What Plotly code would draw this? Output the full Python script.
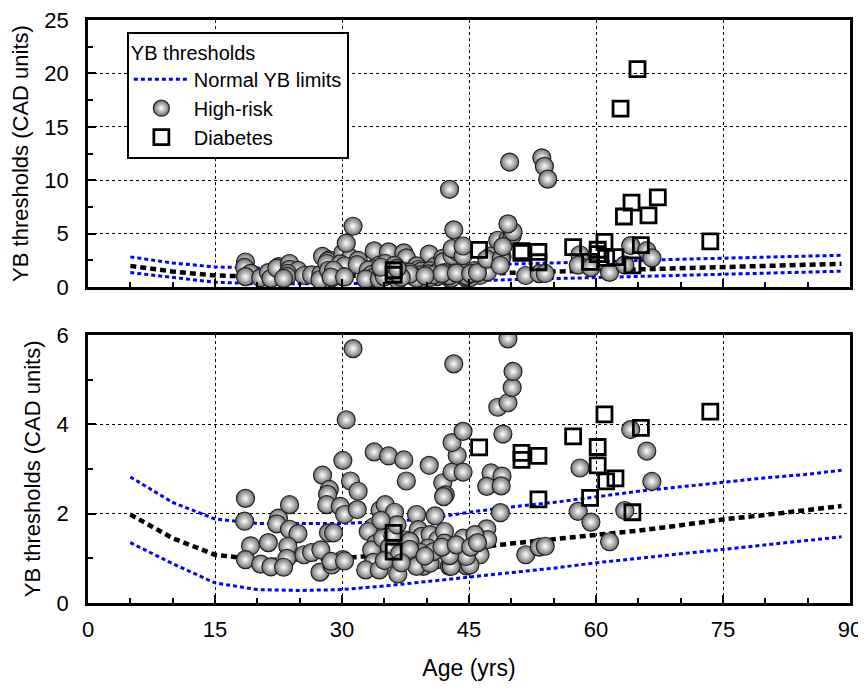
import plotly.graph_objects as go

# Normal YB limit curves
curve_age = [5, 10, 15, 20, 25, 30, 35, 40, 45, 50, 55, 60, 65, 70, 75, 80, 85, 89]
upper_lim = [2.82, 2.25, 1.88, 1.78, 1.78, 1.78, 1.82, 1.88, 2.03, 2.15, 2.25, 2.38, 2.50, 2.60, 2.70, 2.80, 2.88, 2.97]
middle = [1.98, 1.45, 1.08, 0.97, 0.97, 1.00, 1.08, 1.15, 1.22, 1.33, 1.42, 1.52, 1.62, 1.74, 1.87, 1.97, 2.07, 2.17]
lower_lim = [1.35, 0.88, 0.45, 0.30, 0.28, 0.30, 0.38, 0.48, 0.58, 0.68, 0.78, 0.90, 1.00, 1.10, 1.20, 1.30, 1.40, 1.48]

# High-risk subjects (age, threshold)
hr_age = [18.6, 18.5, 19.2, 18.6, 20.4, 21.3, 21.6, 22.5, 22.3, 23.8, 23.8, 24.8, 23.6, 23.5, 23.1,
          25.5, 26.4, 27.5, 27.4, 28.8, 27.7, 28.5, 28.3, 28.2, 28.4, 30.1, 31.0, 31.9, 29.8, 30.3,
          31.8, 30.1, 29.0, 28.7, 30.3, 30.5, 31.3,
          33.8, 35.5, 37.3, 40.3, 37.6, 34.5, 35.1, 36.2, 38.8, 41.0, 33.7, 33.1, 34.0, 33.5, 33.7,
          32.8, 34.4, 36.6, 37.4, 37.6, 39.0, 39.4, 40.4, 41.3, 42.1, 40.2, 39.3, 38.4, 39.6, 41.2,
          42.7, 43.0, 44.2, 44.7, 46.3, 47.1, 47.2, 44.3, 45.7, 41.9, 42.2, 42.0, 43.0, 43.6, 43.0,
          44.3, 44.3, 43.2, 38.0, 42.1, 38.8, 40.4, 45.1, 42.9, 44.7, 42.7,
          34.8, 35.6, 36.8, 35.0, 36.0, 38.0, 40.8, 41.8, 43.5, 39.8, 37.0, 45.2, 46.0, 36.5, 34.6,
          47.6, 48.9, 47.1, 48.8, 48.7, 48.4, 49.6, 50.1, 50.2, 49.6, 49.0, 51.7, 53.3, 54.0, 58.1,
          57.9, 59.4, 61.6, 63.4, 64.1, 66.0, 66.6,
          42.7, 49.8, 53.6, 53.9, 54.3]
hr_val = [2.34, 1.83, 1.28, 0.97, 0.87, 1.35, 0.81, 1.90, 1.77, 2.20, 1.65, 1.55, 1.27, 1.00, 0.80,
          1.08, 1.13, 1.19, 0.69, 0.85, 2.86, 2.54, 2.43, 2.20, 1.57, 3.19, 2.73, 2.50, 2.16, 1.98,
          2.09, 0.97, 1.57, 0.93, 0.94, 4.10, 5.69,
          3.38, 3.29, 3.20, 3.08, 2.73, 2.08, 2.20, 2.03, 1.98, 1.95, 1.70, 1.60, 1.33, 1.19, 0.91,
          0.74, 0.74, 0.65, 1.29, 1.41, 1.64, 1.49, 1.53, 1.41, 1.60, 1.23, 1.13, 1.00, 0.82, 0.97,
          0.82, 1.08, 1.19, 0.83, 1.08, 1.66, 1.42, 1.45, 1.53, 2.69, 2.42, 2.38, 2.93, 3.30, 3.59,
          2.93, 3.84, 5.35, 1.38, 1.34, 0.82, 0.89, 0.85, 0.82, 1.04, 1.06,
          1.45, 1.25, 1.10, 0.95, 1.50, 1.20, 1.15, 1.25, 1.30, 1.05, 0.90, 1.25, 1.35, 1.75, 1.85,
          2.91, 2.84, 2.61, 2.62, 2.02, 4.38, 4.48, 4.82, 5.18, 5.91, 3.78, 1.08, 1.25, 1.27, 3.02,
          2.05, 1.81, 1.37, 2.07, 3.88, 3.40, 2.72,
          9.15, 11.7, 12.1, 11.3, 10.1]

# Diabetes subjects (age, threshold)
db_age = [36.1, 36.1, 46.2, 51.2, 51.2, 53.2, 53.2, 57.3, 59.3, 60.2, 60.2, 61.0, 61.2, 62.3,
          64.3, 65.3, 73.5, 63.3, 64.2, 66.2, 67.3, 62.9, 64.9]
db_val = [1.57, 1.15, 3.48, 3.36, 3.20, 3.29, 2.32, 3.73, 2.35, 3.49, 3.08, 4.22, 2.72, 2.79,
          2.03, 3.92, 4.28, 6.6, 7.9, 6.7, 8.4, 16.7, 20.4]

x_ticks = [0, 15, 30, 45, 60, 75, 90]

limit_x = curve_age + [None] + curve_age
limit_y = upper_lim + [None] + lower_lim

fig = go.Figure()
for i, (xa, ya) in enumerate([("x", "y"), ("x2", "y2")]):
    top = i == 0
    fig.add_trace(go.Scatter(x=limit_x, y=limit_y, mode="lines", name="Normal YB limits",
                             line=dict(color="#0000ff", width=3, dash="4px,3px"),
                             showlegend=top, xaxis=xa, yaxis=ya, connectgaps=False))
    fig.add_trace(go.Scatter(x=curve_age, y=middle, mode="lines", showlegend=False,
                             line=dict(color="black", width=4.5, dash="6px,4px"),
                             xaxis=xa, yaxis=ya))
    fig.add_trace(go.Scatter(x=hr_age, y=hr_val, mode="markers", name="High-risk",
                             marker=dict(symbol="circle", size=18, color="#6e6e6e",
                                         gradient=dict(type="radial", color="#ffffff"),
                                         line=dict(color="#222222", width=1.2)),
                             showlegend=top, xaxis=xa, yaxis=ya, cliponaxis=True))
    fig.add_trace(go.Scatter(x=db_age, y=db_val, mode="markers", name="Diabetes",
                             marker=dict(symbol="square-open", size=15, color="black",
                                         line=dict(color="black", width=2.8)),
                             showlegend=top, xaxis=xa, yaxis=ya, cliponaxis=True))

FAM = "Liberation Sans, Arial, sans-serif"
font = dict(family=FAM, size=22, color="black")
axis_common = dict(showline=True, linecolor="black", linewidth=2.5, mirror=True,
                   ticks="inside", ticklen=8, tickwidth=1.5, tickcolor="black",
                   showgrid=True, gridcolor="black", gridwidth=1, griddash="dot",
                   zeroline=False, tickfont=font, automargin=False, ticklabeloverflow="allow")

# The page body adds an 8px offset; the sizes below compensate for it.
fig.update_layout(
    width=858, height=680,
    margin=dict(l=80, r=16, t=12, b=85),
    paper_bgcolor="white", plot_bgcolor="white",
    font=font,
    xaxis=dict(domain=[0, 1], anchor="y", range=[0, 90], tickvals=x_ticks, showticklabels=False,
               minor=dict(dtick=5, tick0=0, ticks="inside", ticklen=5, tickcolor="black", showgrid=False),
               **axis_common),
    yaxis=dict(domain=[0.542, 1], anchor="x", range=[0, 25], dtick=5, ticklabelstandoff=12,
               minor=dict(dtick=2.5, tick0=0, ticks="inside", ticklen=5, tickcolor="black", showgrid=False),
               title=dict(text="YB thresholds (CAD units)", font=font, standoff=10),
               **axis_common),
    xaxis2=dict(domain=[0, 1], anchor="y2", range=[0, 90], tickvals=x_ticks, matches="x",
                ticklabelstandoff=5,
                minor=dict(dtick=5, tick0=0, ticks="inside", ticklen=5, tickcolor="black", showgrid=False),
                title=dict(text="Age (yrs)", font=dict(family=FAM, size=23, color="black"), standoff=19),
                **axis_common),
    yaxis2=dict(domain=[0, 0.46], anchor="x2", range=[0, 6], dtick=2, ticklabelstandoff=12,
                minor=dict(dtick=1, tick0=0, ticks="inside", ticklen=5, tickcolor="black", showgrid=False),
                title=dict(text="YB thresholds (CAD units)", font=font, standoff=10),
                **axis_common),
    legend=dict(x=0.051, y=0.980, xanchor="left", yanchor="top",
                bgcolor="white", bordercolor="black", borderwidth=2,
                font=dict(family=FAM, size=20, color="black"),
                title=dict(text="YB thresholds", font=dict(family=FAM, size=20, color="black")),
                tracegroupgap=0, itemwidth=55),
)

fig.write_html("out.html")
